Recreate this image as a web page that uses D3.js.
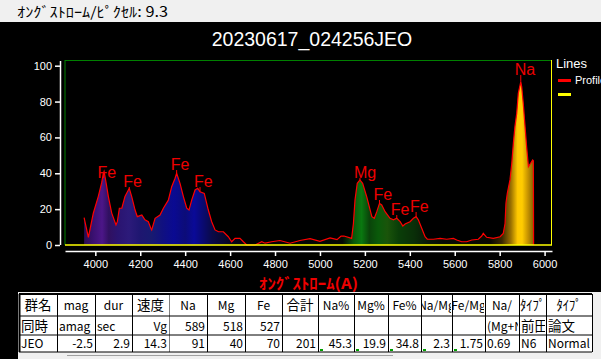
<!DOCTYPE html>
<html>
<head>
<meta charset="utf-8">
<script src="https://cdn.jsdelivr.net/npm/d3@7"></script>
<style>
  body { margin: 0; background: #000; overflow: hidden; }
  svg { display: block; }
  text { font-family: Arial, "Liberation Sans", sans-serif; }
  .jp { font-family: "Noto Sans CJK JP", sans-serif; }
</style>
</head>
<body>
<svg id="chart" width="601" height="359"></svg>
<script>
// profile: wavelength (A), intensity
const waves = [3950, 3969, 3991, 4013, 4028, 4036, 4039, 4048, 4058, 4073, 4092, 4098, 4107, 4118,
  4132, 4147, 4151, 4162, 4177, 4187, 4207, 4221, 4236, 4247, 4251, 4266, 4288, 4303, 4325, 4340,
  4355, 4362, 4377, 4392, 4407, 4417, 4429, 4444, 4456, 4466, 4485, 4503, 4518, 4533, 4548, 4570,
  4592, 4607, 4622, 4644, 4659, 4674, 4711, 4741, 4756, 4785, 4822, 4867, 4911, 4956, 5000, 5045,
  5076, 5094, 5107, 5141, 5149, 5156, 5166, 5178, 5190, 5208, 5231, 5242, 5253, 5265, 5275, 5290,
  5312, 5327, 5342, 5357, 5369, 5379, 5401, 5416, 5428, 5438, 5453, 5468, 5478, 5505, 5535, 5564,
  5594, 5609, 5631, 5653, 5676, 5705, 5720, 5727, 5742, 5772, 5802, 5816, 5824, 5828, 5834, 5846,
  5854, 5861, 5868, 5876, 5883, 5894, 5898, 5905, 5913, 5920, 5928, 5938, 5947, 5950, 5951];
const intensity = [15.2, 4.3, 17.7, 27, 34.6, 40, 41, 34.6, 27, 17.8, 11.2, 13, 20.5, 20.5,
  27, 30.7, 31.6, 27, 19.5, 15.8, 16.7, 14, 13, 9.3, 8.4, 14.9, 16.7, 20.5, 25, 32.5,
  37.2, 40, 34.4, 27, 20.5, 19.5, 25, 30.7, 31.6, 29.7, 28.8, 19.5, 13, 8.4, 7.4, 7.4,
  4.6, 1.8, 3.7, 3.7, 1.8, 0, 0, 1.8, 1, 1.8, 2.5, 1, 2.5, 3.5, 2, 4,
  3, 5, 5, 3.7, 12, 25, 34.4, 36.3, 34.4, 27, 15.8, 14.9, 18.6, 23.2, 22.3, 18.6,
  14.9, 14, 14.9, 13, 10.6, 11.7, 13, 14.9, 15.8, 14, 9.3, 4.6, 3.2, 3.2, 3.7, 3.2,
  3.7, 2.8, 1.8, 1.8, 2.8, 3.2, 5, 6.5, 4.3, 3.7, 4.6, 6.5, 12, 23.2, 28.8, 36.3,
  45.6, 56.7, 66, 73.4, 84.6, 91, 88.3, 79, 66, 54.8, 43.7, 45.6, 47.4, 47, 0];

// emission line labels
const lineNames = ["Fe", "Fe", "Fe", "Fe", "Mg", "Fe", "Fe", "Fe", "Na"];
const lineWaves = [4036, 4151, 4362, 4466, 5178, 5265, 5342, 5428, 5894];
const labelLevels = [37.4, 32.3, 41.8, 32.3, 37.4, 25.1, 16.7, 18.4, 94.8];

const xTicks = [4000, 4200, 4400, 4600, 4800, 5000, 5200, 5400, 5600, 5800, 6000];
const yTicks = [0, 20, 40, 60, 80, 100];

const title = "20230617_024256JEO";
const pixelScale = 9.3;

// table
const headerRow = ["群名", "mag", "dur", "速度", "Na", "Mg", "Fe", "合計", "Na%", "Mg%", "Fe%",
  "Na/Mg", "Fe/Mg", "Na/", "ﾀｲﾌﾟ", "ﾀｲﾌﾟ"];
const unitRow = ["同時", "amag", "sec", "Vg", "589", "518", "527", "", "", "", "", "", "",
  "(Mg+Na)", "前田", "論文"];
const valueRow = ["JEO", "-2.5", "2.9", "14.3", "91", "40", "70", "201", "45.3", "19.9", "34.8",
  "2.3", "1.75", "0.69", "N6", "Normal"];

const svg = d3.select("#chart");
const defs = svg.append("defs");

const x = d3.scaleLinear().domain([3865, 6033]).range([65, 552]);
const y = d3.scaleLinear().domain([0, 100]).range([245, 65.7]);

// top status bar
svg.append("rect").attr("x", 0).attr("y", 0).attr("width", 601).attr("height", 22).attr("fill", "#f0f0f0");
svg.append("text").attr("class", "jp").attr("x", 17).attr("y", 17)
  .attr("font-size", 14).attr("fill", "#000")
  .attr("textLength", 151).attr("lengthAdjust", "spacingAndGlyphs")
  .text("ｵﾝｸﾞｽﾄﾛｰﾑ/ﾋﾟｸｾﾙ: " + pixelScale);

// title
svg.append("text").attr("x", 312).attr("y", 46).attr("text-anchor", "middle")
  .attr("font-size", 19.5).attr("fill", "#fff").text(title);

// spectral fill gradient
const stops = [
  [3950, "#2a0c50"], [3990, "#3a1070"], [4030, "#4c1688"], [4060, "#301060"], [4100, "#2a1470"],
  [4150, "#2c1a7a"], [4200, "#1e1670"], [4250, "#181a70"], [4300, "#101080"], [4350, "#0a0a92"],
  [4400, "#0c0c78"], [4440, "#0a0a98"], [4480, "#0a0a70"], [4520, "#0a0a48"], [4570, "#080830"],
  [4620, "#050518"], [4700, "#030308"], [5100, "#030803"], [5150, "#0a580a"], [5185, "#0a7810"],
  [5220, "#0a440a"], [5260, "#0a5a0a"], [5300, "#1a540a"], [5350, "#0a3e08"], [5420, "#0a2e08"],
  [5480, "#081808"], [5550, "#060a04"], [5760, "#0a0800"], [5810, "#3a2800"], [5850, "#9a7000"],
  [5880, "#ffc800"], [5900, "#ffcc00"], [5925, "#c89400"], [5955, "#7a5a00"]
];
const grad = defs.append("linearGradient").attr("id", "spec")
  .attr("gradientUnits", "userSpaceOnUse")
  .attr("x1", x(3950)).attr("x2", x(5955)).attr("y1", 0).attr("y2", 0);
grad.selectAll("stop").data(stops).join("stop")
  .attr("offset", d => (d[0] - 3950) / (5955 - 3950))
  .attr("stop-color", d => d[1]);

const data = waves.map((w, i) => [w, intensity[i]]);

svg.append("path").datum(data)
  .attr("fill", "url(#spec)")
  .attr("d", d3.area().x(d => x(d[0])).y0(y(0)).y1(d => y(d[1])));

svg.append("path").datum(data)
  .attr("fill", "none").attr("stroke", "#ff0000").attr("stroke-width", 1.2)
  .attr("d", d3.line().x(d => x(d[0])).y(d => y(d[1])));

// plot frame
svg.append("line").attr("x1", 65).attr("x2", 65).attr("y1", 60).attr("y2", 245).attr("stroke", "#008000");
svg.append("line").attr("x1", 65).attr("x2", 552).attr("y1", 60.5).attr("y2", 60.5).attr("stroke", "#008000");
svg.append("line").attr("x1", 551.5).attr("x2", 551.5).attr("y1", 60).attr("y2", 245).attr("stroke", "#ffff00");
svg.append("line").attr("x1", 65).attr("x2", 552).attr("y1", y(0)).attr("y2", y(0)).attr("stroke", "#ffff00").attr("stroke-width", 1.5);

// line labels
const nearest = w => data.reduce((a, b) => Math.abs(b[0] - w) < Math.abs(a[0] - w) ? b : a);
lineNames.forEach((name, i) => {
  const px = x(lineWaves[i]);
  const py = y(nearest(lineWaves[i])[1]);
  const ly = y(labelLevels[i]);
  svg.append("line").attr("x1", px).attr("x2", px).attr("y1", ly).attr("y2", py)
    .attr("stroke", "#ff0000");
  svg.append("text").attr("x", px - 6).attr("y", ly).attr("font-size", 16)
    .attr("fill", "#ee0000").text(name);
});

// axes
const yAxis = svg.append("g").attr("transform", "translate(60,0)")
  .call(d3.axisLeft(y).tickValues(yTicks).tickSize(5).tickSizeOuter(0).tickPadding(3));
yAxis.select(".domain").attr("d", "M0.5,61V245");
const xAxis = svg.append("g").attr("transform", "translate(0,251)")
  .call(d3.axisBottom(x).tickValues(xTicks).tickFormat(d3.format("d"))
    .tickSize(5).tickSizeOuter(0).tickPadding(4));
[yAxis, xAxis].forEach(g => {
  g.selectAll("path, line").attr("stroke", "#fff").attr("stroke-width", 1.5);
  g.selectAll("text").attr("fill", "#fff").attr("font-size", 11)
    .attr("font-family", "Arial, 'Liberation Sans', sans-serif");
});

svg.append("text").attr("class", "jp").attr("x", 259).attr("y", 289)
  .attr("font-size", 15).attr("font-weight", "bold").attr("fill", "#ee0000")
  .attr("textLength", 99).attr("lengthAdjust", "spacingAndGlyphs")
  .text("ｵﾝｸﾞｽﾄﾛｰﾑ(A)");

// legend
svg.append("text").attr("x", 556).attr("y", 68).attr("font-size", 13).attr("fill", "#fff").text("Lines");
svg.append("rect").attr("x", 558).attr("y", 79).attr("width", 13).attr("height", 3).attr("fill", "#ff0000");
svg.append("text").attr("x", 575).attr("y", 84).attr("font-size", 11).attr("fill", "#fff").text("Profile");
svg.append("rect").attr("x", 558).attr("y", 93).attr("width", 13).attr("height", 3).attr("fill", "#ffff00");

// table
const colEdges = [19, 57, 95, 132, 169, 207, 245, 282, 318, 354, 388, 421, 452, 485, 519, 546, 592];
const rowEdges = [294, 316, 335, 352];
const unitAlign = ["start", "start", "start", "end", "end", "end", "end", "end", "end", "end", "end",
  "end", "end", "start", "start", "start"];
const valueAlign = ["start", "end", "end", "end", "end", "end", "end", "end", "end", "end", "end",
  "end", "end", "start", "start", "start"];

svg.append("rect").attr("x", 18).attr("y", 292).attr("width", 583).attr("height", 67).attr("fill", "#f0f0f0");
svg.append("rect").attr("x", 19).attr("y", rowEdges[0]).attr("width", 573).attr("height", rowEdges[3] - rowEdges[0]).attr("fill", "#fff");
svg.append("line").attr("x1", 67).attr("x2", 393).attr("y1", 355.5).attr("y2", 355.5).attr("stroke", "#a0a0a0");

const isWide = s => /[\u3000-\u30ff\u4e00-\u9fff]/.test(s);
const isHalfKana = s => /[\uff61-\uff9f]/.test(s);
[[headerRow, null], [unitRow, unitAlign], [valueRow, valueAlign]].forEach(([row, align], r) => {
  row.forEach((s, c) => {
    const x0 = colEdges[c], x1 = colEdges[c + 1];
    const id = `cl${r}_${c}`;
    defs.append("clipPath").attr("id", id).append("rect")
      .attr("x", x0 + 1).attr("y", rowEdges[r]).attr("width", x1 - x0 - 2).attr("height", rowEdges[r + 1] - rowEdges[r]);
    const a = align ? align[c] : "middle";
    const tx = a === "start" ? x0 + 2 : a === "end" ? x1 - 2 : (x0 + x1) / 2;
    const t = svg.append("text").attr("class", "jp").attr("clip-path", `url(#${id})`)
      .attr("x", tx).attr("y", rowEdges[r + 1] - (r === 0 ? 6 : 4)).attr("text-anchor", a)
      .attr("font-size", isWide(s) ? 13.5 : 12).attr("fill", "#000").text(s);
    if (isHalfKana(s)) {
      t.attr("font-size", 14).attr("textLength", s.length * 6.3).attr("lengthAdjust", "spacingAndGlyphs");
    }
  });
});

// grid lines
colEdges.forEach((cx, i) => {
  svg.append("line").attr("x1", cx + 0.5).attr("x2", cx + 0.5).attr("y1", rowEdges[0]).attr("y2", rowEdges[3])
    .attr("stroke", i === 4 ? "#808080" : "#000").attr("stroke-width", i === 0 ? 2 : 1);
});
rowEdges.forEach((ry, i) => {
  svg.append("line").attr("x1", 19).attr("x2", 592).attr("y1", ry).attr("y2", ry)
    .attr("stroke", "#000").attr("stroke-width", i === 0 ? 2 : 1);
});
// small green marks under ratio cells
[8, 9, 10, 11, 12].forEach(c => {
  svg.append("rect").attr("x", colEdges[c] + 2).attr("y", 349).attr("width", 3).attr("height", 2).attr("fill", "#00a000");
});
</script>
</body>
</html>
